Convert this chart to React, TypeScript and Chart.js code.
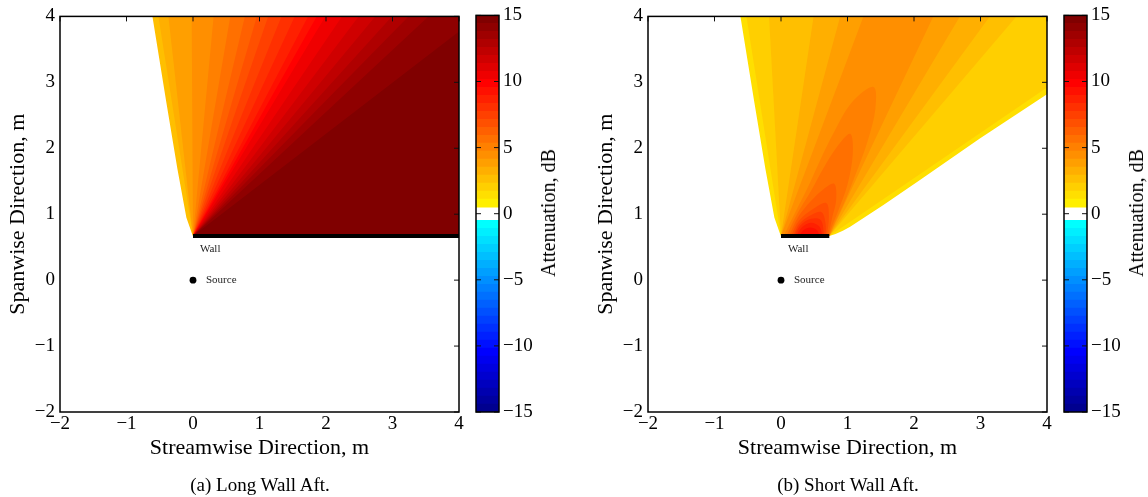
import React, { useEffect, useRef } from 'react';
import { Chart, registerables } from 'chart.js';

Chart.register(...registerables);

const FONT = "'Liberation Serif', 'Times New Roman', Times, serif";

// ---------- axes ----------
const AXIS_MIN = -2;
const AXIS_MAX = 4;
const AXIS_STEP = 1;
const CBAR_MIN = -15;
const CBAR_MAX = 15;
const CBAR_STEP = 5;
const CBAR_WHITE = 0.5; // |dB| below this is drawn white
const CBAR_COLORS_PER_SIDE = 24;

type Pt = { x: number; y: number };

// ---------- geometry (m) ----------
const wallY = 0.67;
const apex: Pt = { x: 0, y: 0.67 };
const longWall: Pt[] = [{ x: 0, y: 0.67 }, { x: 4, y: 0.67 }];
const shortWall: Pt[] = [{ x: 0, y: 0.67 }, { x: 0.726, y: 0.67 }];
const sourcePoint: Pt[] = [{ x: 0, y: 0 }];
const shadowEdgeLeft: Pt[] = [
  { x: 0, y: 0.67 }, { x: -0.02, y: 0.72 }, { x: -0.1, y: 0.95 },
  { x: -0.235, y: 1.69 }, { x: -0.4, y: 2.69 }, { x: -0.61, y: 4 },
];
const shadowEdgeRightShort: Pt[] = [
  { x: 4, y: 2.82 }, { x: 2.99, y: 2.15 }, { x: 2.09, y: 1.52 }, { x: 1.54, y: 1.14 },
  { x: 1.04, y: 0.81 }, { x: 0.93, y: 0.75 }, { x: 0.82, y: 0.7 }, { x: 0.726, y: 0.67 },
];

// ---------- (a) long wall: attenuation bands (dB) and where each band starts on the frame ----------
const longWallLevels = [2.6, 3.2, 3.8, 4.4, 5.0, 5.6, 6.2, 6.8, 7.4, 8.0, 8.7, 9.3, 9.9, 10.5, 11.1, 11.7, 12.3, 12.9, 13.5, 14.1, 14.8];
const longWallRayEnds: Pt[] = [
  { x: -0.52, y: 4 }, { x: -0.37, y: 4 }, { x: -0.02, y: 4 }, { x: 0.31, y: 4 }, { x: 0.56, y: 4 },
  { x: 0.78, y: 4 }, { x: 0.96, y: 4 }, { x: 1.13, y: 4 }, { x: 1.33, y: 4 }, { x: 1.53, y: 4 },
  { x: 1.73, y: 4 }, { x: 1.86, y: 4 }, { x: 1.99, y: 4 }, { x: 2.24, y: 4 }, { x: 2.49, y: 4 },
  { x: 2.74, y: 4 }, { x: 2.99, y: 4 }, { x: 3.24, y: 4 }, { x: 3.54, y: 4 }, { x: 4, y: 3.77 },
];

// ---------- (b) short wall ----------
const shortWallWedgeLevels = [1.4, 2.0, 2.6, 3.2, 3.8, 4.4];
const shortWallLeftTopX = [-0.52, -0.18, 0.49, 0.89, 1.24];
const shortWallRightEnds: Pt[] = [
  { x: 4, y: 2.92 }, { x: 3.54, y: 4 }, { x: 3.14, y: 4 }, { x: 2.69, y: 4 }, { x: 2.29, y: 4 },
];
const lobeLevels = [5.0, 5.6, 6.2, 6.8, 7.4, 8.0, 8.7, 9.3];
const lobes: Pt[][] = [
  [{ x: 0.04, y: 0.67 }, { x: 0.2, y: 1.0 }, { x: 0.4, y: 1.4 }, { x: 0.58, y: 1.8 }, { x: 0.8, y: 2.25 }, { x: 1.07, y: 2.7 }, { x: 1.39, y: 2.93 }, { x: 1.42, y: 2.6 }, { x: 1.3, y: 2.1 }, { x: 1.12, y: 1.6 }, { x: 0.94, y: 1.15 }, { x: 0.8, y: 0.85 }, { x: 0.726, y: 0.67 }],
  [{ x: 0.08, y: 0.67 }, { x: 0.24, y: 1.0 }, { x: 0.45, y: 1.35 }, { x: 0.64, y: 1.7 }, { x: 0.84, y: 2.02 }, { x: 1.04, y: 2.22 }, { x: 1.08, y: 1.92 }, { x: 1.0, y: 1.45 }, { x: 0.86, y: 1.05 }, { x: 0.76, y: 0.8 }, { x: 0.72, y: 0.67 }],
  [{ x: 0.12, y: 0.67 }, { x: 0.26, y: 0.96 }, { x: 0.45, y: 1.2 }, { x: 0.64, y: 1.38 }, { x: 0.8, y: 1.46 }, { x: 0.83, y: 1.22 }, { x: 0.77, y: 0.95 }, { x: 0.71, y: 0.67 }],
  [{ x: 0.15, y: 0.67 }, { x: 0.27, y: 0.9 }, { x: 0.47, y: 1.07 }, { x: 0.68, y: 1.17 }, { x: 0.72, y: 0.96 }, { x: 0.69, y: 0.67 }],
  [{ x: 0.18, y: 0.67 }, { x: 0.28, y: 0.86 }, { x: 0.46, y: 0.99 }, { x: 0.61, y: 1.03 }, { x: 0.67, y: 0.86 }, { x: 0.67, y: 0.67 }],
  [{ x: 0.2, y: 0.67 }, { x: 0.29, y: 0.83 }, { x: 0.45, y: 0.93 }, { x: 0.6, y: 0.91 }, { x: 0.65, y: 0.67 }],
  [{ x: 0.23, y: 0.67 }, { x: 0.31, y: 0.8 }, { x: 0.45, y: 0.87 }, { x: 0.58, y: 0.81 }, { x: 0.62, y: 0.67 }],
  [{ x: 0.27, y: 0.67 }, { x: 0.34, y: 0.76 }, { x: 0.44, y: 0.8 }, { x: 0.54, y: 0.76 }, { x: 0.58, y: 0.67 }],
];

const notes = [
  { text: 'Wall', x: 0.105, y: 0.47 },
  { text: 'Source', x: 0.195, y: 0.0 },
];

// ---------- colour map (jet with the green part replaced by white) ----------
function jet64(i: number): number[] {
  const u = (k: number) => (k < 1 || k > 47 ? 0 : k <= 16 ? k / 16 : k <= 31 ? 1 : (48 - k) / 16);
  return [u(i - 24), u(i - 8), u(i + 8)];
}
const cStep = (CBAR_MAX - CBAR_WHITE) / CBAR_COLORS_PER_SIDE;
function rgb(c: number[]) {
  return `rgb(${Math.round(c[0] * 255)},${Math.round(c[1] * 255)},${Math.round(c[2] * 255)})`;
}
function attenColor(v: number): string {
  if (v >= CBAR_WHITE) {
    const k = Math.min(CBAR_COLORS_PER_SIDE - 1, Math.floor((v - CBAR_WHITE) / cStep));
    return rgb(jet64(41 + k));
  }
  if (v <= -CBAR_WHITE) {
    const k = Math.min(CBAR_COLORS_PER_SIDE - 1, Math.max(0, Math.floor((v - CBAR_MIN) / cStep)));
    return rgb(jet64(1 + k));
  }
  return '#ffffff';
}

const fmt = (v: number) => (v < 0 ? '\u2212' + Math.abs(v) : String(v));

// ---------- frame / inward ticks / notes ----------
const framePlugin = {
  id: 'frame',
  afterDatasetsDraw(chart: any, _args: any, opts: any) {
    const { ctx, chartArea: a, scales } = chart;
    ctx.save();
    if (opts.notes) {
      ctx.fillStyle = '#222';
      ctx.font = `11px ${FONT}`;
      ctx.textBaseline = 'middle';
      ctx.textAlign = 'left';
      for (const n of opts.notes) {
        ctx.fillText(n.text, scales.x.getPixelForValue(n.x), scales.y.getPixelForValue(n.y));
      }
    }
    const L = 5;
    ctx.strokeStyle = '#111';
    ctx.lineWidth = 1;
    const line = (x1: number, y1: number, x2: number, y2: number) => {
      ctx.beginPath();
      ctx.moveTo(x1, y1);
      ctx.lineTo(x2, y2);
      ctx.stroke();
    };
    const ys = scales.y;
    for (const t of ys.ticks) {
      const py = ys.getPixelForValue(t.value);
      if (opts.leftTicks) line(a.left, py, a.left + L, py);
      if (opts.rightTicks) line(a.right - L, py, a.right, py);
    }
    if (opts.topTicks) {
      const xs = scales.x;
      for (const t of xs.ticks) {
        const px = xs.getPixelForValue(t.value);
        line(px, a.top, px, a.top + L);
      }
    }
    ctx.strokeStyle = '#000';
    ctx.lineWidth = 1.5;
    ctx.strokeRect(a.left, a.top, a.right - a.left, a.bottom - a.top);
    ctx.restore();
  },
};

type Band = { pts: Pt[]; dB: number; tension?: number };

function longWallBands(): Band[] {
  const corner = { x: AXIS_MAX, y: AXIS_MAX };
  const wallEnd = { x: AXIS_MAX, y: wallY };
  return longWallLevels.map((dB, i) => {
    if (i === 0) return { pts: [...shadowEdgeLeft, corner, wallEnd], dB };
    const e = longWallRayEnds[i - 1];
    const pts = e.y >= AXIS_MAX ? [apex, e, corner, wallEnd] : [apex, e, wallEnd];
    return { pts, dB };
  });
}

function shortWallBands(): Band[] {
  const corner = { x: AXIS_MAX, y: AXIS_MAX };
  const W = shortWall[1];
  const bands: Band[] = shortWallWedgeLevels.map((dB, i) => {
    if (i === 0) return { pts: [...shadowEdgeLeft, corner, ...shadowEdgeRightShort], dB };
    const r = shortWallRightEnds[i - 1];
    const left = [apex, { x: shortWallLeftTopX[i - 1], y: AXIS_MAX }];
    const right = r.y < AXIS_MAX ? [corner, r, W] : [r, W];
    return { pts: [...left, ...right], dB };
  });
  lobes.forEach((pts, i) => bands.push({ pts, dB: lobeLevels[i], tension: 0.35 }));
  return bands;
}

function contourConfig(bands: Band[], wall: Pt[], yTitle: string, xTitle: string): any {
  const datasets: any[] = bands.map((b, i) => ({
    type: 'line',
    data: b.pts.map((p) => ({ x: p.x, y: p.y })),
    fill: 'shape',
    backgroundColor: attenColor(b.dB),
    borderWidth: 0,
    pointRadius: 0,
    pointHoverRadius: 0,
    pointHitRadius: 0,
    tension: b.tension || 0,
    order: 1000 - i,
  }));
  datasets.push({
    type: 'line',
    data: wall.map((p) => ({ x: p.x, y: p.y })),
    borderColor: '#000',
    borderWidth: 4,
    borderCapStyle: 'butt',
    pointRadius: 0,
    fill: false,
    order: 1,
  });
  datasets.push({
    type: 'line',
    data: sourcePoint.map((p) => ({ x: p.x, y: p.y })),
    showLine: false,
    pointRadius: 3.4,
    pointBackgroundColor: '#000',
    pointBorderWidth: 0,
    fill: false,
    order: 0,
  });
  const tickFont = { family: FONT, size: 19 };
  const titleFont = { family: FONT, size: 22 };
  return {
    type: 'line',
    data: { datasets },
    plugins: [framePlugin],
    options: {
      responsive: false,
      animation: false,
      events: [],
      layout: { padding: { left: 0, top: 13, right: 11, bottom: 0 } },
      plugins: {
        legend: { display: false },
        tooltip: { enabled: false },
        frame: { topTicks: true, rightTicks: true, notes },
      },
      scales: {
        x: {
          type: 'linear',
          min: AXIS_MIN,
          max: AXIS_MAX,
          ticks: { stepSize: AXIS_STEP, callback: fmt, font: tickFont, color: '#000', padding: 1, maxRotation: 0 },
          grid: { display: false, drawTicks: false },
          border: { display: false },
          title: { display: true, text: xTitle, font: titleFont, color: '#000', padding: { top: 0, bottom: 36 } },
          afterFit: (s: any) => { s.height = 85; },
        },
        y: {
          type: 'linear',
          min: AXIS_MIN,
          max: AXIS_MAX,
          ticks: { stepSize: AXIS_STEP, callback: fmt, font: tickFont, color: '#000', padding: 5 },
          grid: { display: false, drawTicks: false },
          border: { display: false },
          title: { display: true, text: yTitle, font: titleFont, color: '#000', padding: { top: 5, bottom: 0 } },
          afterFit: (s: any) => { s.width = 60; },
        },
      },
    },
  };
}

function colorbarConfig(axisWidth: number): any {
  const bands: { lo: number; hi: number; color: string }[] = [];
  for (let k = 0; k < CBAR_COLORS_PER_SIDE; k++) {
    const lo = CBAR_MIN + k * cStep;
    bands.push({ lo, hi: lo + cStep, color: rgb(jet64(1 + k)) });
    const plo = CBAR_WHITE + k * cStep;
    bands.push({ lo: plo, hi: plo + cStep, color: rgb(jet64(41 + k)) });
  }
  return {
    type: 'bar',
    data: {
      labels: [''],
      datasets: bands.map((b) => ({
        data: [[b.lo, b.hi]],
        backgroundColor: b.color,
        borderWidth: 0,
        grouped: false,
        barPercentage: 1,
        categoryPercentage: 1,
      })),
    },
    plugins: [framePlugin],
    options: {
      responsive: false,
      animation: false,
      events: [],
      layout: { padding: { left: 6, top: 13, right: 0, bottom: 85 } },
      plugins: {
        legend: { display: false },
        tooltip: { enabled: false },
        frame: { leftTicks: true, rightTicks: true },
      },
      scales: {
        x: { display: false },
        y: {
          position: 'right',
          min: CBAR_MIN,
          max: CBAR_MAX,
          ticks: { stepSize: CBAR_STEP, callback: fmt, font: { family: FONT, size: 19 }, color: '#000', padding: 4 },
          grid: { display: false, drawTicks: false },
          border: { display: false },
          afterFit: (s: any) => { s.width = axisWidth; },
        },
      },
    },
  };
}

function ChartBox({ left, width, make }: { left: number; width: number; make: () => any }) {
  const ref = useRef<HTMLCanvasElement>(null);
  useEffect(() => {
    const chart = new Chart(ref.current as HTMLCanvasElement, make());
    return () => chart.destroy();
  }, []);
  return (
    <div style={{ position: 'absolute', left, top: 0, width, height: 497 }}>
      <canvas ref={ref} width={width} height={497} style={{ display: 'block' }} />
    </div>
  );
}

function Text({ x, y, text, size, rotate }: { x: number; y: number; text: string; size: number; rotate?: boolean }) {
  return (
    <div
      style={{
        position: 'absolute',
        left: x,
        top: y,
        transform: `translate(-50%, -50%)${rotate ? ' rotate(-90deg)' : ''}`,
        fontFamily: FONT,
        fontSize: size,
        whiteSpace: 'nowrap',
        color: '#000',
        lineHeight: 1,
      }}
    >
      {text}
    </div>
  );
}

export default function App() {
  return (
    <div style={{ position: 'absolute', left: 0, top: 0, width: 1148, height: 497, background: '#fff', overflow: 'hidden' }}>
      <ChartBox left={0} width={470} make={() => contourConfig(longWallBands(), longWall, 'Spanwise Direction, m', 'Streamwise Direction, m')} />
      <ChartBox left={470} width={118} make={() => colorbarConfig(89)} />
      <ChartBox left={588} width={470} make={() => contourConfig(shortWallBands(), shortWall, 'Spanwise Direction, m', 'Streamwise Direction, m')} />
      <ChartBox left={1058} width={90} make={() => colorbarConfig(61)} />
      <Text x={548} y={213} text="Attenuation, dB" size={20} rotate />
      <Text x={1136} y={213} text="Attenuation, dB" size={20} rotate />
      <Text x={260} y={484} text="(a) Long Wall Aft." size={19} />
      <Text x={848} y={484} text="(b) Short Wall Aft." size={19} />
    </div>
  );
}
